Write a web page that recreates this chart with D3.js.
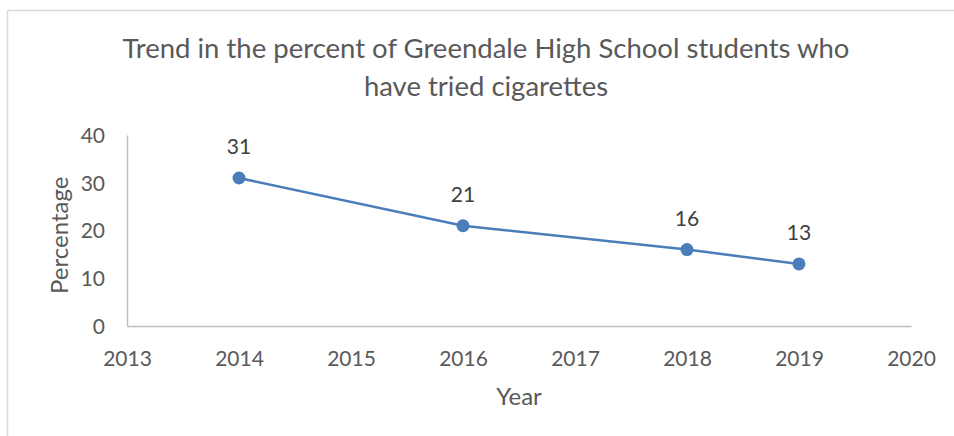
<!DOCTYPE html>
<html>
<head>
<meta charset="utf-8">
<script src="https://cdn.jsdelivr.net/npm/d3@7"></script>
<style>
  html, body { margin: 0; padding: 0; background: #fff; }
  svg { display: block; font-family: Lato, "Open Sans", sans-serif; }
</style>
</head>
<body>
<svg id="chart" width="954" height="436"></svg>
<script>
// Survey results: share of students who have ever tried cigarettes
const years = [2014, 2016, 2018, 2019];
const percentages = [31, 21, 16, 13];
const xTicks = [2013, 2014, 2015, 2016, 2017, 2018, 2019, 2020];
const yTicks = [0, 10, 20, 30, 40];
const titleLines = ["Trend in the percent of Greendale High School students who", "have tried cigarettes"];
const xTitle = "Year";
const yTitle = "Percentage";

const svg = d3.select("#chart");
const W = 954, H = 436;
const margin = { left: 127, right: 43, top: 135, bottom: 110 };

const textColor = "#595959";
const axisColor = "#bfbfbf";
const seriesColor = "#4a7ebb";

// chart area frame
svg.append("rect")
  .attr("x", 7.5).attr("y", 10.5)
  .attr("width", W + 20).attr("height", H + 20)
  .attr("fill", "#fff").attr("stroke", "#d9d9d9").attr("stroke-width", 1.5);

const x = d3.scaleLinear().domain([2013, 2020]).range([margin.left, W - margin.right]);
const y = d3.scaleLinear().domain([0, 40]).range([H - margin.bottom, margin.top]);

// title
const title = svg.append("text")
  .attr("text-anchor", "middle")
  .attr("fill", textColor)
  .attr("font-size", 27.5);
titleLines.forEach((line, i) => {
  title.append("tspan").attr("x", 486).attr("y", 58 + i * 38).text(line);
});

// axes
const xAxis = d3.axisBottom(x).tickValues(xTicks).tickFormat(d3.format("d")).tickSize(0).tickPadding(25);
const yAxis = d3.axisLeft(y).tickValues(yTicks).tickSize(0).tickPadding(22);

const gx = svg.append("g").attr("transform", `translate(0,${y(0)})`).call(xAxis);
const gy = svg.append("g").attr("transform", `translate(${x(2013)},0)`).call(yAxis);

[gx, gy].forEach(g => {
  g.select(".domain").attr("stroke", axisColor).attr("stroke-width", 1.5);
  g.selectAll("text").attr("fill", textColor).attr("font-size", 21).attr("font-family", "Lato, sans-serif");
});
gy.selectAll("text").attr("dy", "0.35em");

// axis titles
svg.append("text")
  .attr("x", x(2016.5)).attr("y", 405)
  .attr("text-anchor", "middle").attr("fill", textColor).attr("font-size", 24)
  .text(xTitle);
svg.append("text")
  .attr("transform", `translate(68,${y(19)}) rotate(-90)`)
  .attr("text-anchor", "middle").attr("fill", textColor).attr("font-size", 24)
  .text(yTitle);

// series
const data = years.map((yr, i) => ({ year: yr, value: percentages[i] }));

svg.append("path")
  .datum(data)
  .attr("fill", "none")
  .attr("stroke", seriesColor)
  .attr("stroke-width", 2.5)
  .attr("d", d3.line().x(d => x(d.year)).y(d => y(d.value)));

svg.selectAll("circle.pt")
  .data(data)
  .join("circle")
  .attr("class", "pt")
  .attr("cx", d => x(d.year))
  .attr("cy", d => y(d.value))
  .attr("r", 6.5)
  .attr("fill", seriesColor);

svg.selectAll("text.lbl")
  .data(data)
  .join("text")
  .attr("class", "lbl")
  .attr("x", d => x(d.year))
  .attr("y", d => y(d.value) - 24)
  .attr("text-anchor", "middle")
  .attr("fill", "#404040")
  .attr("font-size", 21)
  .text(d => d.value);
</script>
</body>
</html>
